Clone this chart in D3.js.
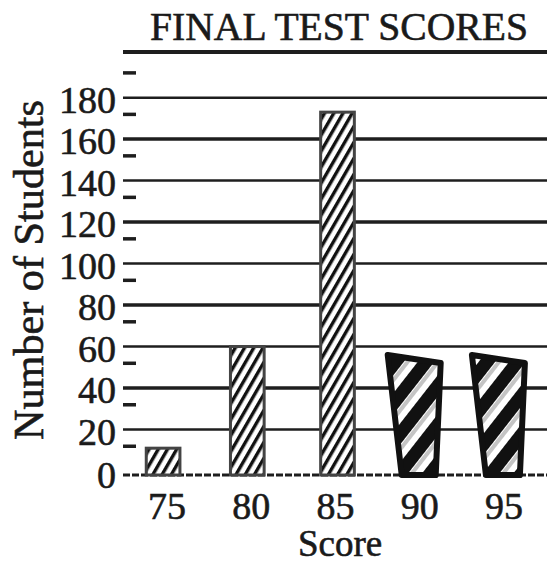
<!DOCTYPE html>
<html>
<head>
<meta charset="utf-8">
<script src="https://cdn.jsdelivr.net/npm/d3@7"></script>
<style>
  html, body { margin: 0; padding: 0; background: #fff; }
  svg { display: block; }
  text { font-family: "Liberation Serif", "DejaVu Serif", serif; fill: #1a1a1a; stroke: #1a1a1a; stroke-width: 0.6px; }
</style>
</head>
<body>
<div id="chart"></div>
<script>
// chart values
const scores = ['75', '80', '85', '90', '95']
const students = [11, 60, 173, 54, 54]
const yTicks = [0, 20, 40, 60, 80, 100, 120, 140, 160, 180]
const yMinorTicks = [10, 30, 50, 70, 90, 110, 130, 150, 170, 190]
const yTop = 202

const title = 'FINAL TEST SCORES'
const xTitle = 'Score'
const yTitle = 'Number of Students'

const width = 547
const height = 564
const margin = { top: 52, right: 0, bottom: 93, left: 123 }
const ink = '#1e1e1e'

const svg = d3.select('#chart')
  .append('svg')
  .attr('width', width)
  .attr('height', height)

const defs = svg.append('defs')

// thin hatch for the printed bars
const hatch = defs.append('pattern')
  .attr('id', 'hatch')
  .attr('patternUnits', 'userSpaceOnUse')
  .attr('width', 8)
  .attr('height', 8)
  .attr('patternTransform', 'rotate(30)')
hatch.append('rect').attr('width', 8).attr('height', 8).attr('fill', '#fff')
hatch.append('rect').attr('width', 3.4).attr('height', 8).attr('fill', '#111')

// broad stripes for the hand drawn bars
const stripes = defs.append('pattern')
  .attr('id', 'stripes')
  .attr('patternUnits', 'userSpaceOnUse')
  .attr('width', 24)
  .attr('height', 24)
  .attr('patternTransform', 'rotate(38)')
stripes.append('rect').attr('width', 24).attr('height', 24).attr('fill', '#fff')
stripes.append('rect').attr('x', 14).attr('width', 4).attr('height', 24).attr('fill', '#c4c4c4')
stripes.append('rect').attr('width', 13).attr('height', 24).attr('fill', '#111')

const x = d3.scaleBand()
  .domain(scores)
  .range([121, 542])
  .paddingInner(0.6)
  .paddingOuter(0.3)

const y = d3.scaleLinear()
  .domain([0, yTop])
  .range([471, margin.top])

const baseY = y(0) + 4
const data = scores.map((s, i) => ({ score: s, value: students[i] }))
const isHeavy = d => +d.score >= 90

// title
svg.append('text')
  .attr('x', 339)
  .attr('y', 40)
  .attr('text-anchor', 'middle')
  .attr('font-size', 40)
  .attr('textLength', 378)
  .attr('lengthAdjust', 'spacingAndGlyphs')
  .text(title)

// top rule
svg.append('line')
  .attr('x1', margin.left).attr('x2', width)
  .attr('y1', y(yTop)).attr('y2', y(yTop))
  .attr('stroke', ink)
  .attr('stroke-width', 4)

// grid lines
svg.append('g')
  .selectAll('line')
  .data(yTicks.filter(v => v > 0))
  .join('line')
  .attr('x1', margin.left).attr('x2', width)
  .attr('y1', d => y(d)).attr('y2', d => y(d))
  .attr('stroke', ink)
  .attr('stroke-width', (d, i) => i % 2 ? 3.5 : 2.5)

// minor ticks
svg.append('g')
  .selectAll('line')
  .data(yMinorTicks)
  .join('line')
  .attr('x1', margin.left).attr('x2', margin.left + 13)
  .attr('y1', d => y(d) - 4).attr('y2', d => y(d) - 4)
  .attr('stroke', ink)
  .attr('stroke-width', 3.5)

// y tick labels
svg.append('g')
  .selectAll('text')
  .data(yTicks)
  .join('text')
  .attr('x', 116)
  .attr('y', d => d === 0 ? baseY : y(d) + 2)
  .attr('text-anchor', 'end')
  .attr('dominant-baseline', 'central')
  .attr('font-size', 38)
  .text(d => d)

// baseline
svg.append('line')
  .attr('x1', margin.left).attr('x2', width)
  .attr('y1', baseY).attr('y2', baseY)
  .attr('stroke', ink)
  .attr('stroke-width', 3)
  .attr('stroke-dasharray', '7 2')

// printed bars
svg.append('g')
  .selectAll('rect')
  .data(data.filter(d => !isHeavy(d)))
  .join('rect')
  .attr('x', d => x(d.score) + (d.score === '85' ? 6 : 0))
  .attr('y', d => y(d.value))
  .attr('width', x.bandwidth())
  .attr('height', d => baseY - y(d.value))
  .attr('fill', 'url(#hatch)')
  .attr('stroke', '#444')
  .attr('stroke-width', 3)

// hand drawn bars: wider, slightly tilted top
svg.append('g')
  .selectAll('path')
  .data(data.filter(isHeavy))
  .join('path')
  .attr('d', d => {
    const c = x(d.score) + x.bandwidth() / 2
    const top = y(d.value)
    return `M${c - 28},${top - 4}L${c + 25},${top + 4}L${c + 20},${baseY}L${c - 14},${baseY}Z`
  })
  .attr('fill', 'url(#stripes)')
  .attr('stroke', '#111')
  .attr('stroke-width', 6)
  .attr('stroke-linejoin', 'round')

// x tick labels
svg.append('g')
  .selectAll('text')
  .data(scores)
  .join('text')
  .attr('x', d => x(d) + x.bandwidth() / 2 + 4)
  .attr('y', 519)
  .attr('text-anchor', 'middle')
  .attr('font-size', 38)
  .text(d => d)

// axis titles
svg.append('text')
  .attr('x', 340)
  .attr('y', 556)
  .attr('text-anchor', 'middle')
  .attr('font-size', 37)
  .text(xTitle)

svg.append('text')
  .attr('transform', 'translate(43,270) rotate(-90)')
  .attr('text-anchor', 'middle')
  .attr('font-size', 42)
  .attr('textLength', 340)
  .attr('lengthAdjust', 'spacingAndGlyphs')
  .text(yTitle)
</script>
</body>
</html>
